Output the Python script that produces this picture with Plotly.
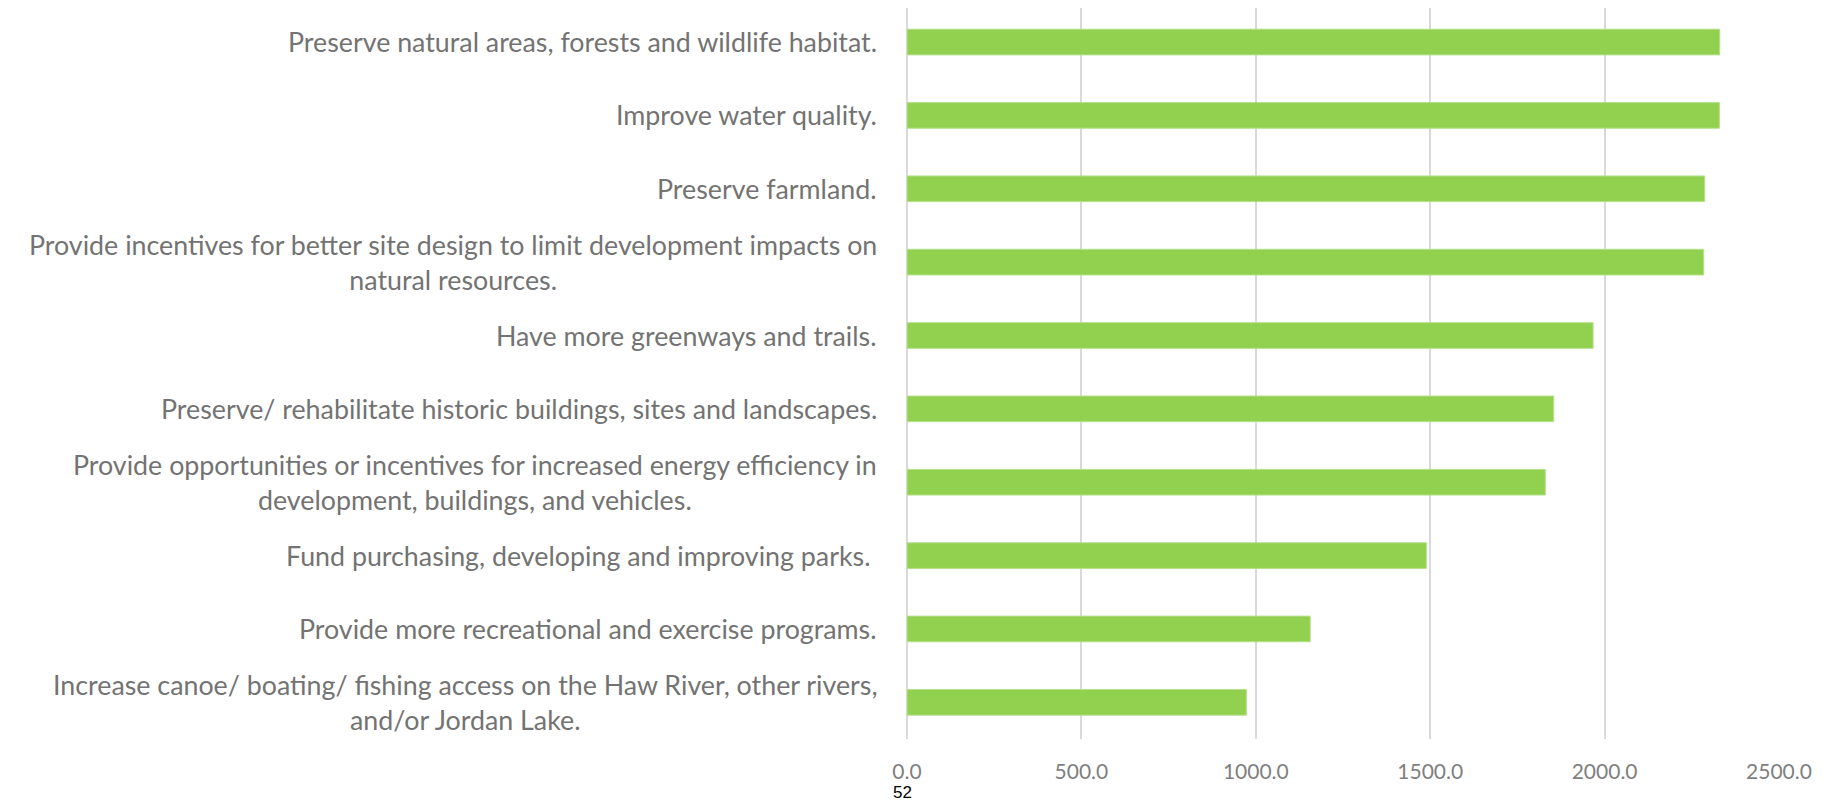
import plotly.graph_objs as go

# survey answers, top to bottom as in the chart
categories = [
    "Preserve natural areas, forests and wildlife habitat.",
    "Improve water quality.",
    "Preserve farmland.",
    "Provide incentives for better site design to limit development impacts on<br>natural resources.",
    "Have more greenways and trails.",
    "Preserve/ rehabilitate historic buildings, sites and landscapes.",
    "Provide opportunities or incentives for increased energy efficiency in<br>development, buildings, and vehicles.",
    "Fund purchasing, developing and improving parks. ",
    "Provide more recreational and exercise programs.",
    "Increase canoe/ boating/ fishing access on the Haw River, other rivers,<br>and/or Jordan Lake.",
]
values = [2330, 2329, 2287, 2284, 1967, 1854, 1830, 1489, 1156, 973]
x_ticks = [0, 500, 1000, 1500, 2000, 2500]
x_tick_labels = ["0.0", "500.0", "1000.0", "1500.0", "2000.0", "2500.0"]
page_number = "52"

GREEN = "#92D050"
GREY_TEXT = "#737373"
GRID = "#d9d9d9"


def main():
    ids = list(range(len(categories)))

    trace = go.Bar(
        x=values, y=ids, orientation="h",
        marker=dict(color=GREEN, line=dict(color="#b5e08a", width=1)),
        width=0.35,
    )

    # category labels as annotations so wrapped lines are centred like the original
    annotations = []
    for i, label in zip(ids, categories):
        annotations.append(dict(
            text=label, x=0, xref="paper", y=i, yref="y",
            xanchor="right", yanchor="middle", align="center",
            xshift=-28, showarrow=False,
            font=dict(family="Lato, sans-serif", size=26.8, color=GREY_TEXT),
        ))
    annotations.append(dict(
        text=page_number, x=0, xref="paper", y=0, yref="paper",
        xanchor="center", yanchor="top", yshift=-42, xshift=-5,
        showarrow=False,
        font=dict(family="Liberation Sans, Arial", size=17, color="#000000"),
    ))

    layout = go.Layout(
        width=1826, height=800,
        margin=dict(l=899, r=55, t=0, b=69),
        plot_bgcolor="white", paper_bgcolor="white",
        showlegend=False,
        xaxis=dict(
            range=[0, 2500], tickvals=x_ticks, ticktext=x_tick_labels,
            showgrid=True, gridcolor=GRID, gridwidth=1.5,
            zeroline=True, zerolinecolor=GRID, zerolinewidth=1.5,
            showline=False,
            ticks="outside", ticklen=14, tickcolor="rgba(0,0,0,0)",
            tickfont=dict(family="Lato, sans-serif", size=21, color="#7f7f7f"),
        ),
        yaxis=dict(
            range=[len(categories) - 0.5, -0.464],
            showticklabels=False, showgrid=False, zeroline=False, showline=False,
        ),
        annotations=annotations,
        bargap=0.65,
    )

    fig = go.Figure(data=[trace], layout=layout)
    fig.write_html("out.html")


if __name__ == '__main__':
    main()
